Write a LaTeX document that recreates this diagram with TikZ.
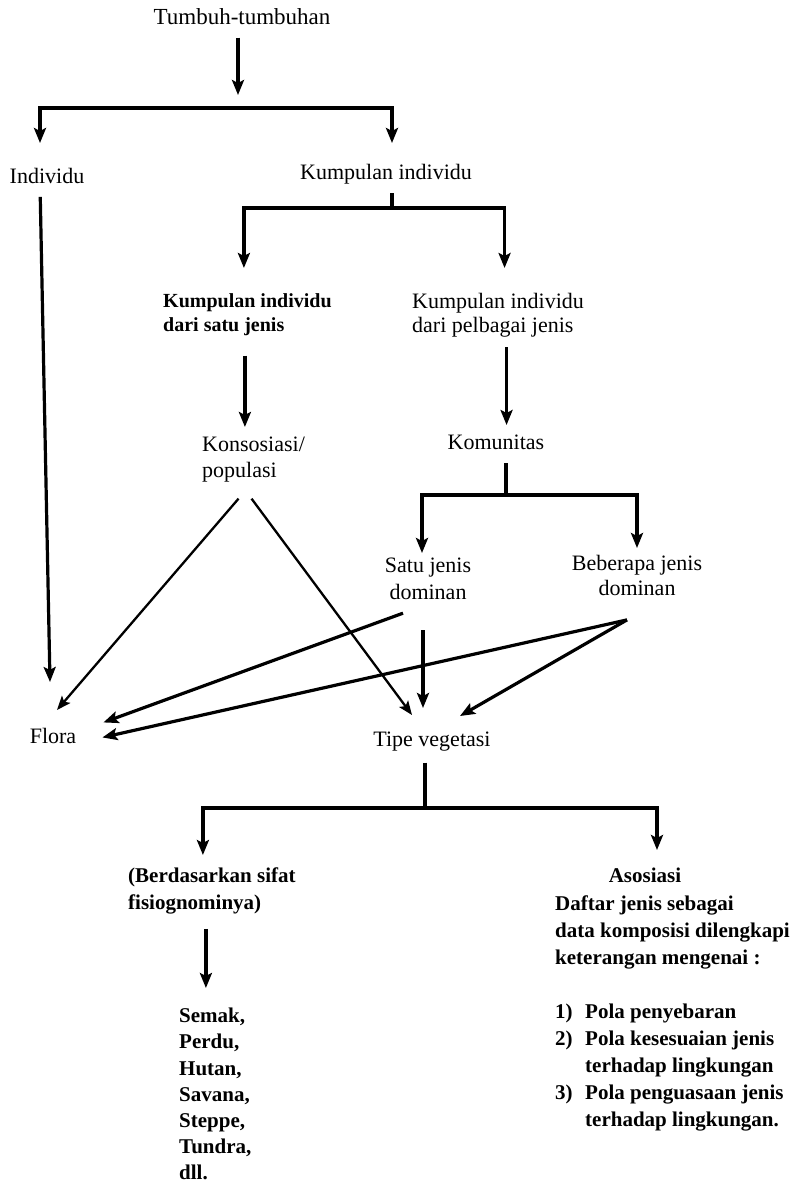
\documentclass[tikz,border=0pt]{standalone}
\usepackage{fontspec}
\setmainfont{Liberation Serif}
\usetikzlibrary{arrows.meta}

\begin{document}
\begin{tikzpicture}[x=1pt, y=-1pt,
    lbl/.style={inner sep=0pt, font=\fontsize{22}{24}\selectfont},
    blbl/.style={inner sep=0pt, font=\fontsize{21}{27}\selectfont\bfseries},
    link/.style={line width=3.2pt},
    arr/.style={line width=3.2pt, -{Stealth[length=15pt, width=12pt, inset=3pt]}},
    thinarr/.style={line width=2.3pt, -{Stealth[length=14pt, width=11pt, inset=3pt]}}]
      \useasboundingbox (0,0) rectangle (804,1187);
      \node [lbl, anchor=north, font=\fontsize{23}{26}\selectfont] (tumbuh) at (242,8) {Tumbuh-tumbuhan};
      \node [lbl, anchor=north] (individu) at (47,168) {Individu};
      \node [lbl, anchor=north] (kumpulan) at (386,164) {Kumpulan individu};
      \node [blbl, anchor=north west, align=left, font=\fontsize{20}{24}\selectfont\bfseries] (satujenis) at (163,293) {Kumpulan individu\\dari satu jenis};
      \node [lbl, anchor=north west, align=left] (pelbagai) at (412,293) {Kumpulan individu\\dari pelbagai jenis};
      \node [lbl, anchor=north west, align=left, font=\fontsize{22}{26}\selectfont] (konsosiasi) at (202,437) {Konsosiasi/\\populasi};
      \node [lbl, anchor=north] (komunitas) at (496,435) {Komunitas};
      \node [lbl, anchor=north, align=center, font=\fontsize{22}{27}\selectfont] (satudom) at (428,558) {Satu jenis\\dominan};
      \node [lbl, anchor=north, align=center, font=\fontsize{22}{25}\selectfont] (beberapa) at (637,555) {Beberapa jenis\\dominan};
      \node [lbl, anchor=north] (flora) at (53,728) {Flora};
      \node [lbl, anchor=north] (tipe) at (432,732) {Tipe vegetasi};
      \node [blbl, anchor=north west, align=left] (berdasarkan) at (128,868) {(Berdasarkan sifat\\fisiognominya)};
      \node [blbl, anchor=north west, align=left, font=\fontsize{21}{26.2}\selectfont\bfseries] (bentuk) at (179,1008) {Semak,\\Perdu,\\Hutan,\\Savana,\\Steppe,\\Tundra,\\dll.};
      \node [blbl, anchor=north] (asosiasi) at (645,868) {Asosiasi};
      \node [blbl, anchor=north west, align=left] (daftar) at (555,895) {Daftar jenis sebagai\\data komposisi dilengkapi\\keterangan mengenai :\\[27pt]\makebox[30pt][l]{1)}Pola penyebaran\\\makebox[30pt][l]{2)}Pola kesesuaian jenis\\\hspace*{30pt}terhadap lingkungan\\\makebox[30pt][l]{3)}Pola penguasaan jenis\\\hspace*{30pt}terhadap lingkungan.};
      \coordinate (j1) at (238,108);
      \coordinate (j2) at (392,208);
      \coordinate (j3) at (506,495);
      \coordinate (j4) at (425,808);
      \draw [arr, shorten <=13pt, shorten >=13pt] ([xshift=-4pt]tumbuh.south) -- (j1);
      \draw [arr, shorten >=25pt] (j1) -| ([xshift=-7pt]individu.north);
      \draw [arr, shorten >=21pt] (j1) -| ([xshift=6pt]kumpulan.north);
      \draw [arr, shorten <=13pt] ([xshift=-7pt]individu.south) -- ([shift={(-3pt,46pt)}]flora.north);
      \draw [link, shorten <=9pt] ([xshift=6pt]kumpulan.south) -- (j2);
      \draw [arr, shorten >=25pt] (j2) -| ([xshift=-3.5pt]satujenis.north);
      \draw [arr, shorten >=25pt] (j2) -| ([xshift=6.5pt]pelbagai.north);
      \draw [arr, shorten <=20pt, shorten >=10pt] ([xshift=-2.5pt]satujenis.south) coordinate (s1) -- (s1 |- konsosiasi.north);
      \draw [arr, shorten <=10pt, shorten >=10pt] ([xshift=8.5pt]pelbagai.south) coordinate (s2) -- (s2 |- komunitas.north);
      \draw [link, shorten <=13pt] ([xshift=10pt]komunitas.south) -- (j3);
      \draw [arr, shorten >=5pt] (j3) -| ([xshift=-6pt]satudom.north);
      \draw [arr, shorten >=7pt] (j3) -| (beberapa.north);
      \draw [thinarr] ([shift={(-15pt,-16pt)}]konsosiasi.south) -- ([shift={(4pt,18pt)}]flora.north);
      \draw [thinarr] ([shift={(-2pt,-16pt)}]konsosiasi.south) -- ([shift={(-20pt,17pt)}]tipe.north);
      \draw [arr] ([shift={(-25pt,-13pt)}]satudom.south) -- ([shift={(27pt,13.5pt)}]flora.east);
      \draw [arr] ([shift={(-5pt,-30pt)}]satudom.south) -- ([shift={(-9pt,24pt)}]tipe.north);
      \draw [arr] ([shift={(-10pt,-24pt)}]beberapa.south) -- ([shift={(26pt,-1.5pt)}]flora.east);
      \draw [arr] ([shift={(-10pt,-24pt)}]beberapa.south) -- ([shift={(28pt,16pt)}]tipe.north);
      \draw [link, shorten <=11pt] ([xshift=-7pt]tipe.south) -- (j4);
      \draw [arr, shorten >=13pt] (j4) -| ([xshift=-9pt]berdasarkan.north);
      \draw [arr, shorten >=18pt] (j4) -| ([xshift=12pt]asosiasi.north);
      \draw [arr, shorten <=14pt, shorten >=20pt] ([xshift=-6pt]berdasarkan.south) coordinate (s3) -- (s3 |- bentuk.north);
    \end{tikzpicture}
\end{document}
